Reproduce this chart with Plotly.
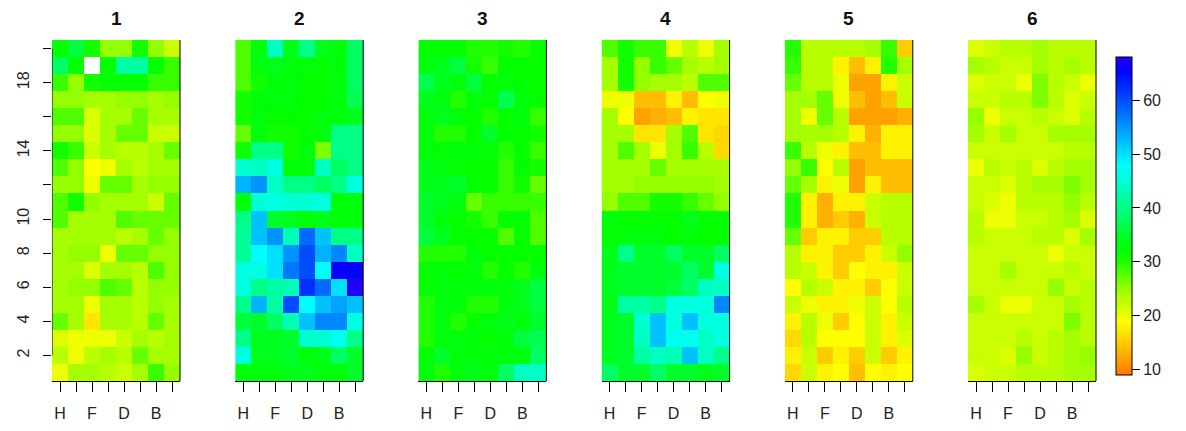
import colorsys
import numpy as np
import plotly.graph_objects as go

# Plot columns (left to right) and row indices (bottom to top)
COLUMNS = ["H", "G", "F", "E", "D", "C", "B", "A"]
ROWS = list(range(1, 21))
PANEL_TITLES = ["1", "2", "3", "4", "5", "6"]

# Cell values for each panel, listed from the top row (20) down to row 1,
# columns H..A.  None marks a missing cell.
panel_1 = [
    [32, 36, 31, 25, 25, 31, 25, 22],
    [38, 32, None, 32, 42, 42, 32, 29],
    [29, 25, 31, 32, 32, 32, 29, 29],
    [25, 25, 24, 24, 25, 25, 24, 25],
    [28, 28, 21, 24, 24, 27, 24, 24],
    [25, 25, 21, 24, 27, 27, 22, 22],
    [31, 29, 22, 24, 23, 23, 24, 27],
    [28, 25, 19, 20, 24, 23, 24, 24],
    [25, 25, 20, 27, 27, 24, 25, 25],
    [28, 31, 25, 24, 24, 24, 22, 27],
    [28, 24, 24, 24, 28, 27, 27, 27],
    [24, 24, 24, 24, 23, 24, 27, 25],
    [24, 25, 25, 20, 27, 27, 25, 25],
    [24, 24, 21, 24, 24, 23, 28, 25],
    [24, 25, 25, 28, 27, 23, 25, 25],
    [24, 24, 20, 24, 24, 23, 25, 24],
    [27, 24, 17, 24, 24, 23, 27, 24],
    [21, 20, 20, 20, 22, 24, 23, 24],
    [23, 20, 23, 24, 23, 27, 24, 24],
    [20, 24, 24, 23, 22, 24, 29, 25],
]

panel_2 = [
    [28, 33, 44, 34, 40, 34, 33, 38],
    [28, 33, 34, 33, 33, 32, 33, 38],
    [28, 31, 33, 33, 32, 32, 33, 38],
    [31, 33, 33, 33, 32, 32, 33, 37],
    [31, 33, 32, 32, 32, 33, 33, 34],
    [27, 33, 31, 31, 32, 33, 40, 40],
    [31, 40, 40, 31, 33, 26, 40, 40],
    [45, 44, 46, 33, 33, 44, 38, 40],
    [53, 55, 44, 40, 40, 38, 40, 46],
    [33, 45, 46, 45, 45, 46, 33, 33],
    [40, 52, 35, 34, 33, 34, 33, 33],
    [41, 52, 55, 43, 58, 52, 40, 40],
    [41, 48, 50, 55, 60, 53, 56, 44],
    [46, 46, 50, 57, 60, 48, 66, 66],
    [46, 40, 42, 43, 62, 58, 50, 68],
    [40, 53, 42, 60, 48, 52, 54, 52],
    [36, 35, 38, 43, 52, 56, 56, 46],
    [40, 34, 34, 35, 45, 45, 47, 40],
    [46, 34, 34, 35, 33, 34, 38, 35],
    [33, 33, 33, 34, 34, 33, 33, 35],
]

panel_3 = [
    [32, 32, 32, 30, 30, 31, 30, 32],
    [33, 34, 36, 31, 29, 32, 32, 32],
    [37, 34, 33, 36, 32, 33, 32, 32],
    [34, 33, 30, 33, 32, 37, 33, 32],
    [33, 34, 33, 32, 30, 32, 33, 29],
    [33, 30, 30, 32, 35, 32, 32, 31],
    [33, 32, 33, 33, 32, 30, 32, 29],
    [34, 33, 32, 32, 32, 29, 32, 31],
    [34, 34, 35, 32, 32, 29, 31, 27],
    [35, 34, 33, 27, 29, 29, 29, 29],
    [35, 33, 32, 31, 29, 32, 32, 28],
    [36, 34, 32, 32, 32, 28, 32, 28],
    [30, 30, 30, 33, 32, 32, 32, 32],
    [32, 33, 32, 33, 30, 32, 30, 33],
    [32, 33, 33, 33, 33, 33, 34, 36],
    [30, 33, 33, 30, 30, 33, 34, 36],
    [30, 33, 30, 32, 33, 34, 33, 35],
    [30, 33, 33, 33, 32, 33, 36, 37],
    [32, 35, 33, 33, 33, 33, 33, 38],
    [33, 30, 33, 34, 33, 38, 44, 44],
]

panel_4 = [
    [28, 31, 29, 29, 20, 23, 20, 24],
    [24, 31, 25, 29, 27, 24, 23, 24],
    [24, 31, 25, 24, 24, 23, 28, 28],
    [20, 20, 14, 14, 18, 14, 19, 20],
    [24, 19, 12, 13, 14, 18, 17, 17],
    [24, 24, 17, 17, 24, 28, 17, 16],
    [24, 28, 24, 20, 24, 29, 23, 16],
    [24, 24, 24, 27, 24, 24, 24, 24],
    [24, 24, 25, 25, 25, 25, 25, 24],
    [25, 28, 28, 31, 31, 29, 27, 25],
    [33, 32, 32, 32, 32, 34, 32, 32],
    [32, 33, 33, 33, 32, 33, 32, 32],
    [34, 40, 35, 35, 38, 35, 35, 38],
    [34, 35, 35, 35, 35, 38, 35, 46],
    [34, 35, 35, 35, 36, 38, 44, 44],
    [34, 42, 42, 40, 46, 46, 46, 56],
    [34, 35, 45, 52, 46, 52, 46, 46],
    [34, 35, 44, 52, 47, 47, 44, 46],
    [34, 35, 42, 44, 43, 52, 44, 40],
    [38, 35, 35, 38, 35, 35, 34, 35],
]

panel_5 = [
    [30, 23, 23, 23, 23, 24, 29, 15],
    [29, 23, 23, 18, 14, 18, 30, 24],
    [27, 23, 23, 20, 12, 12, 18, 22],
    [24, 24, 27, 20, 14, 12, 14, 22],
    [24, 20, 27, 23, 12, 12, 12, 13],
    [24, 24, 24, 23, 18, 13, 18, 18],
    [29, 23, 20, 18, 14, 14, 18, 18],
    [25, 29, 19, 23, 12, 14, 14, 14],
    [27, 24, 18, 20, 12, 18, 14, 14],
    [30, 18, 13, 18, 18, 22, 23, 23],
    [30, 18, 13, 15, 13, 22, 23, 23],
    [27, 15, 18, 18, 15, 15, 23, 23],
    [23, 18, 18, 15, 15, 18, 22, 25],
    [23, 22, 18, 15, 19, 18, 18, 22],
    [19, 23, 22, 18, 18, 15, 19, 22],
    [22, 20, 18, 18, 20, 22, 19, 23],
    [18, 23, 20, 15, 19, 22, 18, 22],
    [16, 23, 19, 19, 19, 22, 18, 21],
    [18, 22, 15, 18, 15, 22, 15, 18],
    [16, 22, 18, 19, 14, 19, 18, 19],
]

panel_6 = [
    [21, 22, 23, 23, 24, 23, 23, 23],
    [24, 23, 22, 22, 24, 23, 24, 23],
    [21, 22, 22, 20, 26, 23, 22, 20],
    [22, 22, 23, 23, 26, 23, 21, 22],
    [25, 20, 22, 22, 23, 22, 21, 23],
    [24, 22, 24, 22, 22, 24, 24, 24],
    [22, 22, 22, 22, 22, 22, 23, 23],
    [20, 23, 22, 23, 21, 23, 24, 24],
    [22, 22, 21, 23, 24, 24, 26, 24],
    [22, 21, 20, 23, 23, 23, 25, 23],
    [23, 20, 20, 22, 22, 23, 24, 21],
    [23, 22, 22, 22, 23, 23, 21, 24],
    [22, 22, 22, 22, 22, 20, 22, 22],
    [22, 22, 24, 22, 22, 22, 23, 22],
    [22, 22, 22, 22, 22, 25, 22, 23],
    [24, 22, 20, 20, 22, 22, 24, 23],
    [22, 22, 22, 22, 22, 22, 26, 23],
    [22, 22, 22, 23, 22, 23, 24, 23],
    [22, 22, 21, 25, 22, 23, 24, 25],
    [21, 22, 22, 23, 23, 23, 24, 24],
]

PANELS = [panel_1, panel_2, panel_3, panel_4, panel_5, panel_6]

Z_MIN, Z_MAX = 9, 68
COLORBAR_TICKS = [10, 20, 30, 40, 50, 60]

# Rainbow-style scale: orange at the low end through yellow, green, cyan to blue
hue_vals = [9, 14, 19, 25, 30, 35, 40, 48, 55, 60, 68]
hue_degs = [28, 45, 60, 85, 112, 130, 152, 180, 205, 222, 248]
colorscale = []
for v in np.linspace(Z_MIN, Z_MAX, 60):
    h = np.interp(v, hue_vals, hue_degs) / 360.0
    r, g, b = colorsys.hsv_to_rgb(h, 1.0, 1.0)
    colorscale.append([(v - Z_MIN) / (Z_MAX - Z_MIN),
                       f"rgb({int(r*255)},{int(g*255)},{int(b*255)})"])

W, H = 1186, 431
PANEL_LEFT0, PANEL_STEP, PANEL_W = 52, 183.2, 128
PANEL_TOP, PANEL_BOTTOM = 40, 381

tick_font = dict(family="Liberation Sans, Arial, sans-serif", size=16, color="#222")
x_ticktext = [c if i % 2 == 0 else "" for i, c in enumerate(COLUMNS)]
y_tickvals = list(range(2, 21, 2))
y_ticktext = ["2", "4", "6", "8", "10", "", "14", "", "18", ""]

fig = go.Figure()
layout = dict(
    width=W, height=H,
    margin=dict(l=0, r=0, t=0, b=0),
    paper_bgcolor="white", plot_bgcolor="white",
    showlegend=False,
    coloraxis=dict(
        colorscale=colorscale, cmin=Z_MIN, cmax=Z_MAX,
        colorbar=dict(
            x=1116 / W, xanchor="left", xpad=0, ypad=0,
            y=1 - 216 / H, yanchor="middle",
            thickness=16, len=318, lenmode="pixels",
            outlinewidth=1, outlinecolor="black",
            tickvals=COLORBAR_TICKS, ticks="outside", ticklen=8,
            tickcolor="black", tickfont=tick_font,
        ),
    ),
)
shapes = []
annotations = []

for i, (panel, title) in enumerate(zip(PANELS, PANEL_TITLES)):
    n = i + 1
    xa, ya = f"x{n}" if n > 1 else "x", f"y{n}" if n > 1 else "y"
    z = panel[::-1]  # bottom row first so row 1 sits at the bottom
    fig.add_trace(go.Heatmap(
        z=z, x=list(range(1, len(COLUMNS) + 1)), y=ROWS,
        coloraxis="coloraxis", xaxis=xa, yaxis=ya,
        hoverongaps=False,
    ))
    left = PANEL_LEFT0 + PANEL_STEP * i
    layout[f"xaxis{n}" if n > 1 else "xaxis"] = dict(
        domain=[left / W, (left + PANEL_W) / W],
        range=[0.5, 8.5], anchor=ya,
        tickvals=list(range(1, 9)), ticktext=x_ticktext,
        ticks="outside", ticklen=10, tickcolor="black", tickwidth=1,
        showline=True, linecolor="black", linewidth=1,
        showgrid=False, zeroline=False, tickfont=tick_font,
        ticklabelstandoff=8,
    )
    yax = dict(
        domain=[1 - PANEL_BOTTOM / H, 1 - PANEL_TOP / H],
        range=[0.5, 20.5], anchor=xa,
        showgrid=False, zeroline=False, showline=False,
    )
    if n == 1:
        yax.update(tickvals=y_tickvals, ticktext=y_ticktext,
                   ticks="outside", ticklen=8, tickcolor="black",
                   tickangle=-90, tickfont=tick_font, ticklabelstandoff=8)
    else:
        yax.update(showticklabels=False, ticks="")
    layout[f"yaxis{n}" if n > 1 else "yaxis"] = yax

    # right-hand frame line of each panel
    shapes.append(dict(type="line", xref=f"{xa} domain", yref=f"{ya} domain",
                       x0=1, x1=1, y0=0, y1=1,
                       line=dict(color="black", width=1)))
    annotations.append(dict(
        text=f"<b>{title}</b>", xref=f"{xa} domain", x=0.5,
        yref="paper", y=1 - 18 / H, yanchor="middle", showarrow=False,
        font=dict(family="Liberation Sans, Arial, sans-serif", size=19, color="#111"),
    ))

# left axis line of the first panel spans the labelled tick range
shapes.append(dict(type="line", xref="x", yref="y", x0=0.5, x1=0.5,
                   y0=y_tickvals[0], y1=y_tickvals[-1],
                   line=dict(color="black", width=1)))

layout["shapes"] = shapes
layout["annotations"] = annotations
fig.update_layout(**layout)
fig.write_html("out.html")
